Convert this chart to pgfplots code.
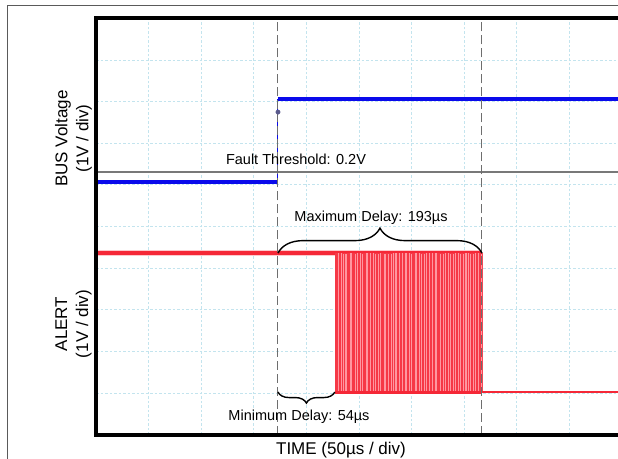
\documentclass[border=0pt]{standalone}
\usepackage{fontspec}
\setmainfont{Liberation Sans}
\usepackage{pgfplots}
\pgfplotsset{compat=1.18}
\usetikzlibrary{decorations.pathreplacing}
\definecolor{gridc}{RGB}{195,228,238}
\definecolor{sigblue}{RGB}{10,10,235}
\definecolor{sigred}{RGB}{245,40,55}
\definecolor{pinkfill}{RGB}{255,150,160}
\definecolor{dashgray}{RGB}{110,110,110}
\definecolor{threshgray}{RGB}{120,120,120}
\definecolor{frameg}{RGB}{90,90,90}
\definecolor{dotc}{RGB}{90,90,140}
\begin{document}
\begin{tikzpicture}
\draw[frameg, line width=1pt] (7pt,-5pt) -- (7pt,452pt) -- (630pt,452pt);
\begin{axis}[
  name=ax,
  at={(96pt,23.5pt)}, anchor=south west,
  scale only axis, width=526pt, height=416pt,
  xmin=0, xmax=500, ymin=0, ymax=10,
  xtick={0,50,...,500}, ytick={0,1,...,10},
  xticklabels={}, yticklabels={},
  major tick length=0pt,
  grid=major,
  major grid style={gridc, line width=0.8pt, dash pattern=on 2.5pt off 2pt},
  axis line style={draw=none},
]
% threshold
\addplot[threshgray, line width=2pt] coordinates {(0,6.31)(500,6.31)};
% BUS voltage
\addplot[sigblue, line width=4.5pt] coordinates {(0,6.07)(173,6.07)};
\addplot[sigblue, line width=1pt] coordinates {(173,6.07)(173,8.07)};
\addplot[sigblue, line width=3.5pt] coordinates {(173,8.07)(500,8.07)};
\addplot[only marks, mark=*, mark size=2.2pt, dotc] coordinates {(173,7.75)};
% ALERT
\addplot[sigred!50, line width=6pt, opacity=0.5] coordinates {(0,4.36)(366.9,4.36)};
\addplot[sigred, line width=3.5pt] coordinates {(0,4.36)(366.9,4.36)};
\addplot[draw=none, fill=pinkfill] coordinates {(227,1.02)(366.9,1.02)(366.9,4.36)(227,4.36)} -- cycle;
\addplot[sigred, line width=0.6pt, draw opacity=0.85, const plot] coordinates {
(227,4.36)(227,1.02)(228.2,4.36)(229.0,1.02)(231.5,4.36)(232.3,1.02)(234.0,4.36)(235.6,1.02)
(236.4,4.36)(238.8,1.02)(240.1,4.36)(241.0,1.02)(243.2,4.36)(244.5,1.02)(246.0,4.36)(247.1,1.02)
(249.6,4.36)(250.4,1.02)(252.0,4.36)(253.9,1.02)(255.2,4.36)(256.3,1.02)(258.7,4.36)(259.5,1.02)
(261.8,4.36)(263.0,1.02)(264.1,4.36)(266.5,1.02)(267.3,4.36)(269.0,1.02)(270.8,4.36)(272.2,1.02)
(273.4,4.36)(275.9,1.02)(276.6,4.36)(278.8,1.02)(280.1,4.36)(281.5,1.02)(283.2,4.36)(284.0,1.02)
(286.4,4.36)(287.7,1.02)(289.0,4.36)(290.6,1.02)(292.3,4.36)(293.5,1.02)(295.8,4.36)(296.6,1.02)
(298.9,4.36)(300.2,1.02)(301.7,4.36)(303.0,1.02)(305.4,4.36)(306.1,1.02)(308.0,4.36)(309.8,1.02)
(311.0,4.36)(312.6,1.02)(314.9,4.36)(315.7,1.02)(317.3,4.36)(319.0,1.02)(320.4,4.36)(321.8,1.02)
(324.0,4.36)(325.2,1.02)(326.7,4.36)(328.5,1.02)(329.6,4.36)(331.0,1.02)(333.4,4.36)(334.3,1.02)
(336.1,4.36)(337.8,1.02)(339.0,4.36)(340.7,1.02)(342.9,4.36)(343.6,1.02)(345.5,4.36)(347.0,1.02)
(348.4,4.36)(350.1,1.02)(352.6,4.36)(353.3,1.02)(355.0,4.36)(356.8,1.02)(358.1,4.36)(359.5,1.02)
(361.7,4.36)(362.6,1.02)(364.4,4.36)(365.5,1.02)(365.6,4.36)(366.9,1.02)};
\addplot[sigred, line width=3pt] coordinates {(227,1.02)(366.9,1.02)};
\addplot[sigred, line width=2pt] coordinates {(366.9,1.02)(500,1.02)};
% markers
\draw[dashgray, line width=1pt, dash pattern=on 9pt off 4pt] (axis cs:173,0) -- (axis cs:173,10);
\draw[dashgray, line width=1pt, dash pattern=on 9pt off 4pt] (axis cs:366.9,0) -- (axis cs:366.9,10);
% braces
\draw[decorate, decoration={brace, amplitude=25pt}, line width=1.4pt] (axis cs:173,4.36) -- (axis cs:366.9,4.36);
\draw[decorate, decoration={brace, amplitude=11pt}, line width=1.4pt] (axis cs:227,1.02) -- (axis cs:173,1.02);
\end{axis}
\draw[line width=4pt, line cap=rect] (ax.south west) rectangle (ax.north east);
\node[rotate=90, align=center, inner sep=0pt, font=\fontsize{17}{21}\selectfont] at (73.5pt,319.5pt) {BUS Voltage\\(1V / div)};
\node[rotate=90, align=center, inner sep=0pt, font=\fontsize{17}{21}\selectfont] at (73.5pt,134pt) {ALERT\\(1V / div)};
\node[anchor=base, inner sep=0pt, font=\fontsize{17}{20}\selectfont] at (341pt,3.8pt) {TIME (50µs / div)};
\node[anchor=base, inner sep=0pt, font=\fontsize{14.5}{17}\selectfont] at (296pt,293.5pt) {Fault Threshold: 0.2V};
\node[anchor=base, inner sep=0pt, font=\fontsize{14.5}{17}\selectfont] at (371pt,236.5pt) {Maximum Delay: 193µs};
\node[anchor=base, inner sep=0pt, font=\fontsize{14.5}{17}\selectfont] at (299pt,37.5pt) {Minimum Delay: 54µs};
\pgfresetboundingbox
\useasboundingbox (0,0) rectangle (618pt,458pt);
\end{tikzpicture}
\end{document}
